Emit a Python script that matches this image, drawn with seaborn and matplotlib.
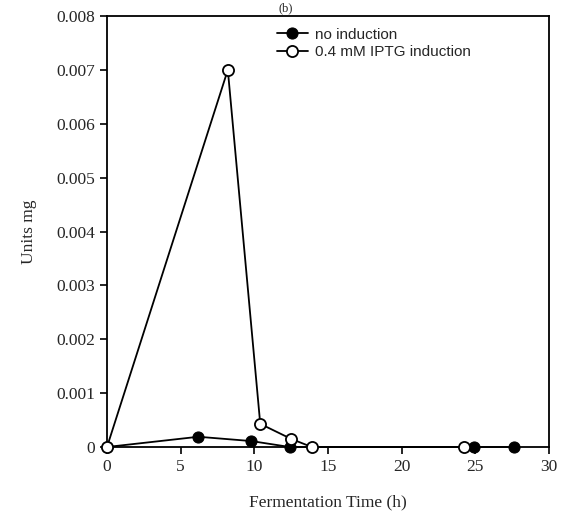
import pandas as pd
import seaborn as sns
import matplotlib.pyplot as plt

# values
time_no = [0, 6.2, 9.8, 12.4, 24.9, 27.6]
units_no = [0, 0.00019, 0.00011, 0.0, 0.0, 0.0]
time_iptg = [0, 8.2, 10.4, 12.5, 13.9, 24.2]
units_iptg = [0, 0.0070, 0.00043, 0.00015, 0.0, 0.0]
x_ticks = [0, 5, 10, 15, 20, 25, 30]
y_ticks = [0, 0.001, 0.002, 0.003, 0.004, 0.005, 0.006, 0.007, 0.008]
y_tick_labels = ['0', '0.001', '0.002', '0.003', '0.004', '0.005', '0.006', '0.007', '0.008']

df_no = pd.DataFrame({'Time': time_no, 'Units': units_no})
df_iptg = pd.DataFrame({'Time': time_iptg, 'Units': units_iptg})

sns.set_style('ticks')
plt.rcParams['font.family'] = ['Liberation Serif', 'DejaVu Serif']

fig = plt.figure(figsize=(5.71, 5.17), dpi=100)
ax = fig.add_axes([0.1874, 0.1354, 0.7741, 0.8336])

sns.lineplot(x='Time', y='Units', data=df_no, ax=ax, sort=False, color='black',
             linewidth=1.3, marker='o', markersize=8, markerfacecolor='black',
             markeredgecolor='black', label='no induction', zorder=2)
sns.lineplot(x='Time', y='Units', data=df_iptg, ax=ax, sort=False, color='black',
             linewidth=1.3, marker='o', markersize=8, markerfacecolor='white',
             markeredgecolor='black', markeredgewidth=1.3,
             label='0.4 mM IPTG induction', zorder=3)
for line in ax.lines:
    line.set_clip_on(False)

ax.set_xlim(0, 30)
ax.set_ylim(0, 0.008)
ax.set_xticks(x_ticks)
ax.set_yticks(y_ticks)
ax.set_yticklabels(y_tick_labels)
ax.tick_params(direction='out', length=5, width=1.2, labelsize=12.5, color='black')
for s in ax.spines.values():
    s.set_linewidth(1.3)
    s.set_color('black')

ax.set_xlabel('Fermentation Time (h)', fontsize=12.5, labelpad=14)
ax.set_ylabel('Units mg', fontsize=12.5, labelpad=14)

leg = ax.legend(loc='upper right', bbox_to_anchor=(0.855, 1.005), frameon=False,
                prop={'family': 'Liberation Sans', 'size': 11},
                handlelength=2.0, handletextpad=0.5, labelspacing=0.25)

fig.text(0.5, 0.995, '(b)', ha='center', va='top', fontsize=9)

fig.savefig('out.png', dpi=100)
